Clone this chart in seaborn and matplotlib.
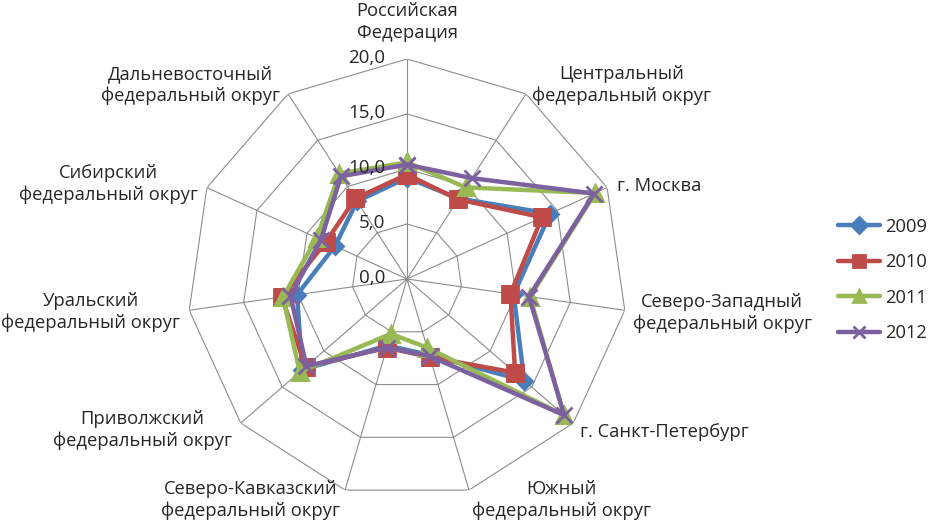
import numpy as np
import pandas as pd
import matplotlib
matplotlib.use("Agg")
import matplotlib.pyplot as plt
import seaborn as sns

# regions, clockwise from the top
regions = [
    "Российская\nФедерация",
    "Центральный\nфедеральный округ",
    "г. Москва",
    "Северо-Западный\nфедеральный округ",
    "г. Санкт-Петербург",
    "Южный\nфедеральный округ",
    "Северо-Кавказский\nфедеральный округ",
    "Приволжский\nфедеральный округ",
    "Уральский\nфедеральный округ",
    "Сибирский\nфедеральный округ",
    "Дальневосточный\nфедеральный округ",
]
years = ["2009", "2010", "2011", "2012"]
values_2009 = [9.2, 8.7, 14.3, 9.8, 14.1, 7.2, 6.3, 12.6, 10.1, 7.2, 8.4]
values_2010 = [9.5, 8.6, 13.5, 9.5, 13.0, 7.4, 6.5, 12.2, 11.5, 8.1, 8.7]
values_2011 = [10.6, 9.9, 18.8, 11.3, 18.9, 6.5, 5.2, 12.9, 11.4, 9.0, 11.4]
values_2012 = [10.4, 10.9, 18.7, 11.2, 18.9, 7.3, 6.5, 12.1, 10.7, 8.6, 11.1]
ticks = [0, 5, 10, 15, 20]

sns.set_style("white")
plt.rcParams["font.family"] = ["Open Sans", "DejaVu Sans"]
FS = 13.2

n = len(regions)
theta = np.linspace(0, 2 * np.pi, n, endpoint=False)

rows = []
for year, vals in zip(years, [values_2009, values_2010, values_2011, values_2012]):
    for k, i in enumerate(list(range(n)) + [0]):
        t = 2 * np.pi if k == n else theta[i]
        rows.append({"year": year, "theta": t, "value": vals[i]})
df = pd.DataFrame(rows)

fig = plt.figure(figsize=(9.32, 5.25), dpi=100)
ax = fig.add_axes([187 / 932, 26 / 525, 440 / 932, 440 / 525], projection="polar")
ax.set_theta_zero_location("N")
ax.set_theta_direction(-1)
ax.grid(False)
ax.spines["polar"].set_visible(False)

# polygonal grid
ring_theta = np.append(theta, theta[0])
for r in ticks[1:]:
    ax.plot(ring_theta, [r] * (n + 1), color="#8c8c8c", lw=0.8, zorder=1)
for t in theta:
    ax.plot([t, t], [0, 20], color="#8c8c8c", lw=0.8, zorder=1)

palette = {"2009": "#4A7EBB", "2010": "#BE4B48", "2011": "#98B954", "2012": "#7D60A0"}
markers = {"2009": "D", "2010": "s", "2011": "^", "2012": "x"}
sizes = {"2009": 8, "2010": 11, "2011": 11, "2012": 11}

for year in years:
    sub = df[df["year"] == year]
    sns.lineplot(
        data=sub, x="theta", y="value", ax=ax, color=palette[year],
        marker=markers[year], markersize=sizes[year], markeredgewidth=2,
        markeredgecolor=palette[year], lw=3.2, sort=False, estimator=None,
        label=year, zorder=3,
    )
ax.set_xlabel("")
ax.set_ylabel("")
ax.set_xticks([])
ax.set_yticks([])
ax.set_xlim(0, 2 * np.pi)
ax.set_ylim(0, 20)

# category labels
label_style = [
    ("center", (0, 37)), ("left", (6, 9)), ("left", (10, 2)), ("left", (8, -3)),
    ("left", (7, -9)), ("left", (3, -10)), ("right", (-5, -10)), ("right", (-9, -7)),
    ("right", (-9, -2)), ("right", (-9, 4)), ("right", (-8, 9)),
]
for t, name, (ha, off) in zip(theta, regions, label_style):
    ax.annotate(name, xy=(t, 20), xytext=off, textcoords="offset pixels",
                ha=ha, va="center", multialignment="center", fontsize=FS,
                linespacing=1.25, annotation_clip=False)

# radial tick labels
for v in ticks:
    ax.annotate(f"{v:.1f}".replace(".", ","), xy=(0, v), xytext=(-22, 1),
                textcoords="offset pixels", ha="right", va="center",
                fontsize=13.5, annotation_clip=False)

leg = ax.legend(loc="center left", bbox_to_anchor=(838 / 932, 1 - 280 / 525),
                bbox_transform=fig.transFigure, frameon=False, fontsize=FS,
                handlelength=2.3, handletextpad=0.25, labelspacing=0.95,
                borderpad=0, borderaxespad=0)
for h in leg.legend_handles:
    h.set_markersize(8)

fig.savefig("out.png", dpi=100)
